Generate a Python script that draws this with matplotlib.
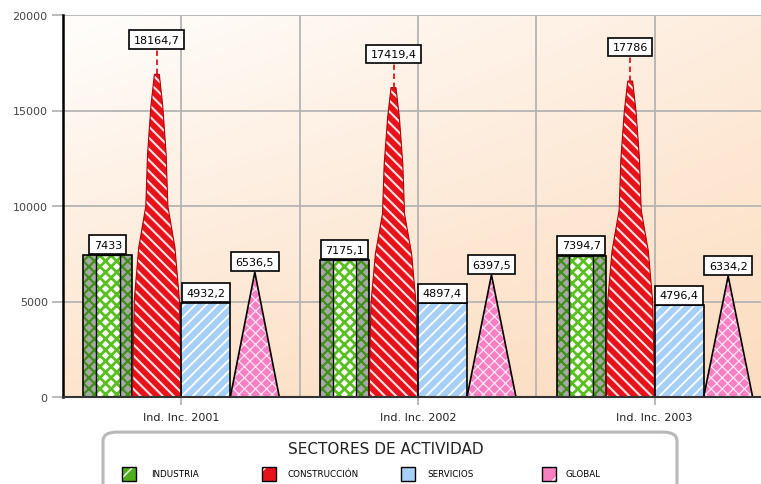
import matplotlib.pyplot as plt
import numpy as np
from matplotlib.patches import Polygon, Rectangle, FancyBboxPatch

# datos
categorias = ['Ind. Inc. 2001', 'Ind. Inc. 2002', 'Ind. Inc. 2003']
sectores = ['INDUSTRIA', 'CONSTRUCCIÓN', 'SERVICIOS', 'GLOBAL']
industria = [7433, 7175.1, 7394.7]
construccion = [18164.7, 17419.4, 17786]
servicios = [4932.2, 4897.4, 4796.4]
global_ = [6536.5, 6397.5, 6334.2]
y_ticks = [0, 5000, 10000, 15000, 20000]

VERDE = '#4fae1c'
ROJO = '#e8121a'
AZUL = '#a6d0f7'
ROSA = '#f77fc2'


def fmt(v):
    return f'{v:g}'.replace('.', ',')


def etiqueta(ax, x, v):
    ax.annotate(fmt(v), (x, v), xytext=(0, 3.8), textcoords='offset points',
                ha='center', va='bottom', fontsize=8, color='black', zorder=8,
                bbox=dict(boxstyle='square,pad=0.4', fc='white', ec='black', lw=1.2))


def hatch_lw(p, lw):
    if hasattr(p, 'set_hatch_linewidth'):
        p.set_hatch_linewidth(lw)


fig = plt.figure(figsize=(7.61, 4.85), dpi=100)
ax = fig.add_axes([63 / 761, 87 / 485, 710 / 761, 382 / 485])
ax.set_xlim(-0.5, 2.5)

# fondo degradado (claro arriba a la izquierda)
u, v = np.meshgrid(np.linspace(0, 1, 200), np.linspace(0, 1, 200))
t = np.clip(0.25 + 0.55 * v + 0.25 * u - 0.3 * (1 - u) * (1 - v), 0, 1)
c0 = np.array([1.0, 0.99, 0.98])
c1 = np.array([0.99, 0.87, 0.76])
img = c0 + (c1 - c0) * t[..., None]
ax.imshow(img, extent=(-0.5, 2.5, 0, 20000), origin='upper', aspect='auto', zorder=0)
ax.set_xlim(-0.5, 2.5)
ax.set_ylim(0, 20000)

# rejilla
ax.set_yticks(y_ticks)
ax.set_xticks(range(len(categorias)))
ax.set_xticklabels(categorias, fontsize=8, color='#222')
ax.set_xticks([0.5, 1.5], minor=True)
ax.grid(True, which='both', color='#b4b4b4', lw=1.3, zorder=1)
ax.set_axisbelow(True)
ax.tick_params(axis='y', length=8, width=1.3, color='#b4b4b4', labelsize=8,
               labelcolor='#444', pad=3)
ax.tick_params(axis='x', which='major', length=6, width=1.3, color='#b4b4b4', pad=5)
ax.tick_params(axis='x', which='minor', length=0)
for s in ['top', 'right']:
    ax.spines[s].set_visible(False)
ax.spines['left'].set_linewidth(1.8)
ax.spines['left'].set_zorder(6)
ax.spines['bottom'].set_color('#333')
ax.spines['bottom'].set_linewidth(1.5)
ax.spines['bottom'].set_zorder(6)

w = 0.207
x = np.arange(len(categorias))

# INDUSTRIA: barra con franjas laterales grises
xi = x - 1.5 * w
for b in ax.bar(xi, industria, w, color='#a8a8a8', edgecolor='#3f8f16', hatch='xxx',
                lw=0, zorder=3):
    hatch_lw(b, 1.6)
for b in ax.bar(xi, industria, w * 0.48, color='white', edgecolor='#58c01e', hatch='xxx',
                lw=0, zorder=3):
    hatch_lw(b, 2.0)
ax.bar(xi, industria, w * 0.48, fill=False, edgecolor='black', lw=1, zorder=4)
ax.bar(xi, industria, w, fill=False, edgecolor='black', lw=1.2, zorder=4)

# CONSTRUCCION: aguja
perfil_h = np.array([0, 0.28, 0.43, 0.55, 0.7, 0.84, 0.93])
perfil_w = np.array([1, 0.92, 0.74, 0.45, 0.38, 0.24, 0.1])
xc = x - 0.5 * w
for xx_, val in zip(xc, construccion):
    izq = [(xx_ - w / 2 * pw, ph * val) for ph, pw in zip(perfil_h, perfil_w)]
    der = [(xx_ + w / 2 * pw, ph * val) for ph, pw in zip(perfil_h, perfil_w)][::-1]
    p = Polygon(izq + der, closed=True, fc=ROJO, ec='#fbe3e3', hatch='\\\\\\', lw=0, zorder=3)
    hatch_lw(p, 1.5)
    ax.add_patch(p)
    ax.add_patch(Polygon(izq + der, closed=True, fill=False, ec='#b00008', lw=0.8, zorder=4))
    ax.plot([xx_, xx_], [0.93 * val, val], ls=(0, (3, 2)), color=ROJO, lw=1.3, zorder=4)

# SERVICIOS
xs = x + 0.5 * w
for b in ax.bar(xs, servicios, w, color=AZUL, edgecolor='white', hatch='///', lw=0, zorder=3):
    hatch_lw(b, 1.3)
ax.bar(xs, servicios, w, fill=False, edgecolor='black', lw=1.2, zorder=4)

# GLOBAL: triangulo
xg = x + 1.5 * w
for xx_, val in zip(xg, global_):
    pts = [(xx_ - w / 2, 0), (xx_, val), (xx_ + w / 2, 0)]
    p = Polygon(pts, closed=True, fc=ROSA, ec='#ffe6f3', hatch='xxx', lw=0, zorder=3)
    hatch_lw(p, 0.9)
    ax.add_patch(p)
    ax.add_patch(Polygon(pts, closed=True, fill=False, ec='black', lw=1.2, zorder=4))

for xs_, vals in [(xi, industria), (xc, construccion), (xs, servicios), (xg, global_)]:
    for xx_, val in zip(xs_, vals):
        etiqueta(ax, xx_, val)

# leyenda
fig.patches.append(FancyBboxPatch((103 / 761, -0.05), 574 / 761, 0.157,
                                  boxstyle='round,pad=0,rounding_size=0.018',
                                  transform=fig.transFigure, fc='white', ec='#b8b8b8', lw=2.2))
fig.text(386 / 761, 1 - 450 / 485, 'SECTORES DE ACTIVIDAD', ha='center', va='center',
         fontsize=11, color='#222')
icono_x = [122, 262, 401, 542]
texto_x = [151, 287, 427, 565]
colores = [VERDE, ROJO, AZUL, ROSA]
for nombre, c, ix, tx in zip(sectores, colores, icono_x, texto_x):
    r = Rectangle((ix / 761, 1 - 482 / 485), 14 / 761, 14 / 485, transform=fig.transFigure,
                  fc=c, ec='white', hatch='/', lw=0)
    fig.patches.append(r)
    fig.patches.append(Rectangle((ix / 761, 1 - 482 / 485), 14 / 761, 14 / 485,
                                 transform=fig.transFigure, fill=False, ec='black', lw=1))
    fig.text(tx / 761, 1 - 475 / 485, nombre, ha='left', va='center', fontsize=6.3,
             color='black')

fig.savefig('out.png', dpi=100)
